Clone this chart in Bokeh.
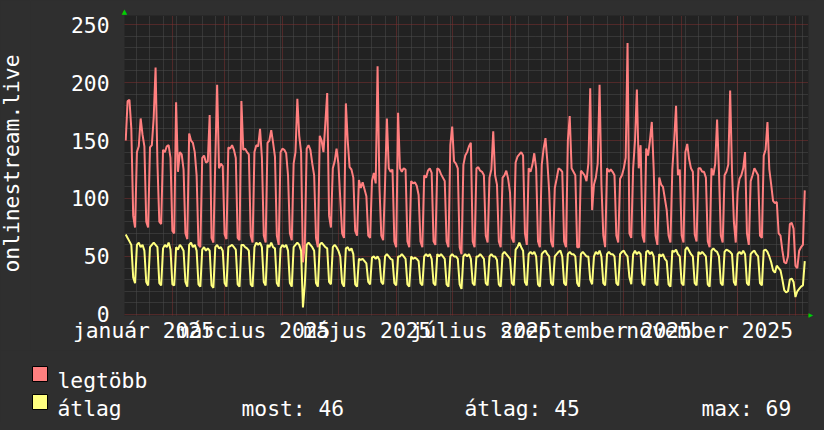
import numpy as np
import pandas as pd
from bokeh.plotting import figure
from bokeh.layouts import column, row
from bokeh.models import Range1d, FixedTicker, LinearAxis
from bokeh.core.properties import value
from bokeh.embed import file_html
from bokeh.resources import INLINE

# ---------------- data ----------------
title_text = "onlinestream.live"
series_names = ["legtöbb", "átlag"]
series_colors = ["#ff7f7f", "#ffff7f"]
start_date = "2025-01-07"

# daily maximum (legtöbb)
max_values = [
    150, 184, 185, 160, 85, 75,
    140, 145, 169, 155, 145, 80, 75,
    144, 146, 170, 213, 130, 80, 78,
    142, 140, 145, 146, 135, 72, 70,
    183, 123, 140, 138, 125, 70, 65,
    156, 150, 148, 140, 120, 60, 58,
    135, 137, 131, 132, 172, 66, 62,
    132, 198, 126, 130, 128, 69, 65,
    144, 143, 146, 142, 135, 66, 64,
    184, 142, 143, 140, 138, 68, 62,
    140, 146, 145, 160, 135, 68, 62,
    148, 150, 159, 148, 136, 68, 60,
    140, 143, 142, 139, 120, 70, 64,
    130, 140, 186, 154, 140, 45, 60,
    143, 146, 142, 130, 120, 66, 58,
    154, 150, 140, 165, 191, 85, 75,
    126, 132, 143, 130, 100, 70, 66,
    182, 150, 127, 125, 118, 72, 68,
    116, 109, 114, 108, 102, 68, 66,
    115, 122, 113, 214, 110, 68, 64,
    112, 169, 126, 123, 125, 63, 58,
    174, 126, 123, 126, 125, 63, 58,
    115, 113, 114, 111, 103, 63, 58,
    120, 118, 124, 126, 122, 63, 60,
    126, 125, 121, 118, 115, 63, 58,
    146, 162, 132, 130, 126, 58, 52,
    129, 137, 140, 145, 148, 63, 58,
    126, 127, 124, 123, 120, 68, 62,
    118, 125, 158, 120, 112, 63, 58,
    118, 120, 124, 117, 105, 66, 62,
    131, 136, 138, 140, 137, 70, 60,
    126, 123, 129, 139, 126, 63, 58,
    129, 143, 152, 132, 106, 63, 58,
    109, 117, 126, 125, 123, 63, 58,
    150, 171, 126, 123, 120, 58, 58,
    124, 122, 120, 115, 130, 195, 90,
    112, 118, 130, 198, 112, 68, 58,
    126, 123, 125, 123, 120, 68, 62,
    117, 120, 126, 135, 234, 70, 66,
    126, 150, 194, 126, 146, 68, 62,
    143, 137, 150, 166, 126, 68, 60,
    118, 112, 110, 100, 90, 68, 62,
    125, 150, 180, 120, 125, 68, 62,
    140, 147, 134, 126, 123, 69, 63,
    126, 126, 123, 123, 118, 63, 58,
    126, 120, 130, 168, 123, 68, 62,
    120, 123, 129, 193, 123, 80, 62,
    106, 117, 120, 126, 140, 70, 60,
    115, 120, 126, 123, 120, 68, 66,
    137, 142, 166, 125, 112, 98, 96,
    97, 70, 68, 55, 45, 44, 50,
    78, 79, 74, 42, 40, 55, 58,
    60, 107,
]

# daily average (átlag)
avg_values = [
    69, 66, 63, 60, 32, 27,
    60, 62, 58, 60, 55, 28, 25,
    58, 60, 62, 60, 58, 27, 25,
    57, 60, 58, 62, 56, 26, 25,
    58, 56, 60, 58, 55, 28, 24,
    60, 62, 58, 60, 55, 26, 24,
    56, 58, 55, 57, 55, 25, 23,
    58, 60, 57, 58, 55, 27, 24,
    58, 59, 60, 58, 56, 26, 24,
    60, 60, 58, 57, 55, 26, 24,
    58, 62, 60, 62, 58, 28, 25,
    60, 58, 62, 58, 57, 27, 24,
    57, 60, 58, 60, 55, 27, 24,
    58, 60, 62, 60, 55, 6, 26,
    60, 62, 60, 58, 55, 27, 24,
    60, 62, 60, 58, 57, 28, 26,
    58, 60, 58, 55, 50, 27, 24,
    57, 58, 55, 57, 52, 26, 24,
    48, 47, 48, 46, 44, 28, 26,
    49, 50, 48, 50, 47, 28, 26,
    50, 52, 50, 48, 47, 27, 25,
    50, 50, 52, 50, 48, 26, 24,
    50, 48, 49, 48, 46, 27, 25,
    50, 52, 50, 52, 48, 27, 25,
    52, 50, 52, 50, 48, 26, 24,
    50, 52, 50, 50, 48, 26, 22,
    50, 52, 50, 52, 48, 27, 25,
    50, 50, 52, 50, 48, 27, 25,
    50, 52, 50, 50, 47, 26, 24,
    52, 54, 52, 50, 48, 27, 25,
    56, 58, 62, 58, 55, 28, 25,
    52, 54, 52, 54, 50, 26, 24,
    52, 54, 55, 52, 50, 27, 25,
    50, 52, 54, 55, 50, 27, 25,
    52, 54, 52, 52, 50, 27, 24,
    52, 54, 52, 50, 50, 30, 26,
    50, 54, 52, 55, 50, 27, 25,
    52, 54, 52, 52, 50, 27, 25,
    52, 54, 55, 52, 50, 32, 26,
    52, 55, 52, 54, 52, 27, 25,
    54, 55, 52, 54, 50, 27, 25,
    52, 50, 52, 48, 46, 26, 24,
    55, 54, 56, 52, 50, 27, 25,
    56, 58, 55, 52, 50, 27, 25,
    54, 52, 54, 52, 50, 26, 24,
    55, 57, 55, 54, 50, 27, 25,
    54, 56, 55, 54, 52, 28, 25,
    52, 54, 52, 55, 52, 27, 25,
    52, 54, 55, 52, 50, 27, 25,
    55, 56, 54, 50, 45, 38, 36,
    42, 40, 38, 30, 21, 19, 20,
    30, 31, 28, 15, 20, 22, 24,
    25, 46,
]

month_labels = ["január 2025", "március 2025", "május 2025",
                "július 2025", "szeptember 2025", "november 2025"]
label_months = ["2025-01-01", "2025-03-01", "2025-05-01",
                "2025-07-01", "2025-09-01", "2025-11-01"]
y_ticks = [0, 50, 100, 150, 200, 250]
stat_names = ["most:", "átlag:", "max:"]
stat_values = [46, 45, 69]

# ---------------- helpers ----------------
def ms(ts):
    return int(pd.Timestamp(ts).value // 10**6)

dates = pd.date_range(start_date, periods=len(max_values), freq="D")

label_ticks = []
for m in label_months:
    s = pd.Timestamp(m)
    e = s + pd.offsets.MonthBegin(1)
    label_ticks.append(ms(s + (e - s) / 2))

month_starts = [ms(t) for t in pd.date_range("2025-02-01", "2026-01-01", freq="MS")]
mondays = [ms(t) for t in pd.date_range("2025-01-06", "2026-01-08", freq="W-MON")]

x0 = pd.Timestamp("2025-01-01") + pd.Timedelta(days=5.34)
x1 = pd.Timestamp("2025-01-01") + pd.Timedelta(days=372.0)

FONT = "DejaVu Sans Mono"
FSIZE = "21.3px"
BG = "#2f2f2f"
ARROW = "#00d000"


def blank_fig(w, h, xr, yr):
    f = figure(width=w, height=h, output_backend="svg", toolbar_location=None,
               x_range=xr, y_range=yr, min_border=0,
               x_axis_location=None, y_axis_location=None,
               background_fill_color=BG, border_fill_color=BG,
               outline_line_color=None)
    f.frame_align = False
    f.xgrid.visible = False
    f.ygrid.visible = False
    return f


# ---------------- vertical title strip ----------------
tf = blank_fig(30, 350, Range1d(0, 30), Range1d(0, 350))
tf.text(x=[10.5], y=[350 - 163], text=[title_text], angle=np.pi / 2,
        text_font=value(FONT), text_font_size=value(FSIZE),
        text_color="white", text_align="center", text_baseline="alphabetic")

# ---------------- main chart ----------------
p = figure(width=786, height=350, x_axis_type="datetime",
           output_backend="svg", toolbar_location=None,
           x_range=Range1d(x0, x1), y_range=Range1d(-0.9, 257.8),
           min_border_left=94, min_border_right=6,
           min_border_top=15, min_border_bottom=35,
           background_fill_color="#222222", border_fill_color=BG,
           outline_line_color=None)
p.frame_align = False

p.ygrid.ticker = FixedTicker(ticks=y_ticks,
                             minor_ticks=[v for v in range(0, 260, 10) if v % 50])
p.xgrid.ticker = FixedTicker(ticks=month_starts, minor_ticks=mondays)
for g in (p.xgrid, p.ygrid):
    g.grid_line_color = "#803030"
    g.grid_line_dash = "1 1"
    g.grid_line_width = 1
    g.minor_grid_line_color = "#4c4c4c"
    g.minor_grid_line_dash = "1 1"

p.xaxis.ticker = FixedTicker(ticks=label_ticks)
p.xaxis.major_label_overrides = {t: l for t, l in zip(label_ticks, month_labels)}
p.yaxis.ticker = FixedTicker(ticks=y_ticks)
for ax in (p.xaxis, p.yaxis):
    ax.axis_line_color = None
    ax.major_tick_line_color = None
    ax.minor_tick_line_color = None
    ax.major_tick_out = 0
    ax.major_tick_in = 0
    ax.major_label_text_font = FONT
    ax.major_label_text_font_size = FSIZE
    ax.major_label_text_color = "white"
    ax.major_label_text_font_style = "normal"
p.xaxis.major_label_standoff = 2
p.yaxis.major_label_standoff = 15

# small green arrows at the axis ends
top_arrow = LinearAxis(ticker=FixedTicker(ticks=[ms(x0)]),
                       major_label_overrides={ms(x0): "▲"})
right_arrow = LinearAxis(ticker=FixedTicker(ticks=[0]),
                         major_label_overrides={0: "▶"})
for ax, fs in ((top_arrow, "7px"), (right_arrow, "6px")):
    ax.axis_line_color = None
    ax.major_tick_line_color = None
    ax.minor_tick_line_color = None
    ax.major_tick_out = 0
    ax.major_tick_in = 0
    ax.major_label_standoff = 0
    ax.major_label_text_font = "DejaVu Sans"
    ax.major_label_text_font_size = fs
    ax.major_label_text_color = ARROW
p.add_layout(top_arrow, "above")
p.add_layout(right_arrow, "right")

p.line(dates, max_values, line_color=series_colors[0], line_width=2)
p.line(dates, avg_values, line_color=series_colors[1], line_width=2)

# ---------------- legend strip ----------------
lg = blank_fig(816, 72, Range1d(0, 816), Range1d(422, 350))

sq_x = [39.5, 39.5]
sq_y = [373.5, 401.5]
lg.rect(x=sq_x, y=sq_y, width=15, height=15, fill_color=series_colors,
        line_color="black", line_width=1)
lg.text(x=[57, 57], y=[380, 408], text=series_names,
        text_font=value(FONT), text_font_size=value(FSIZE),
        text_color="white", text_baseline="alphabetic")
lg.text(x=[241, 464, 701], y=[408, 408, 408],
        text=[f"{n} {v}" for n, v in zip(stat_names, stat_values)],
        text_font=value(FONT), text_font_size=value(FSIZE),
        text_color="white", text_baseline="alphabetic")

top = row(tf, p, spacing=0, styles={"background-color": BG})
page = column(top, lg, spacing=0, styles={"background-color": BG})

html = file_html(page, INLINE)
html = html.replace("<body>", '<body style="background-color:#2f2f2f;">', 1)
html = html.replace("</head>", "<style>html, body {background-color: #2f2f2f;}</style></head>", 1)
open("out.html", "w").write(html)
